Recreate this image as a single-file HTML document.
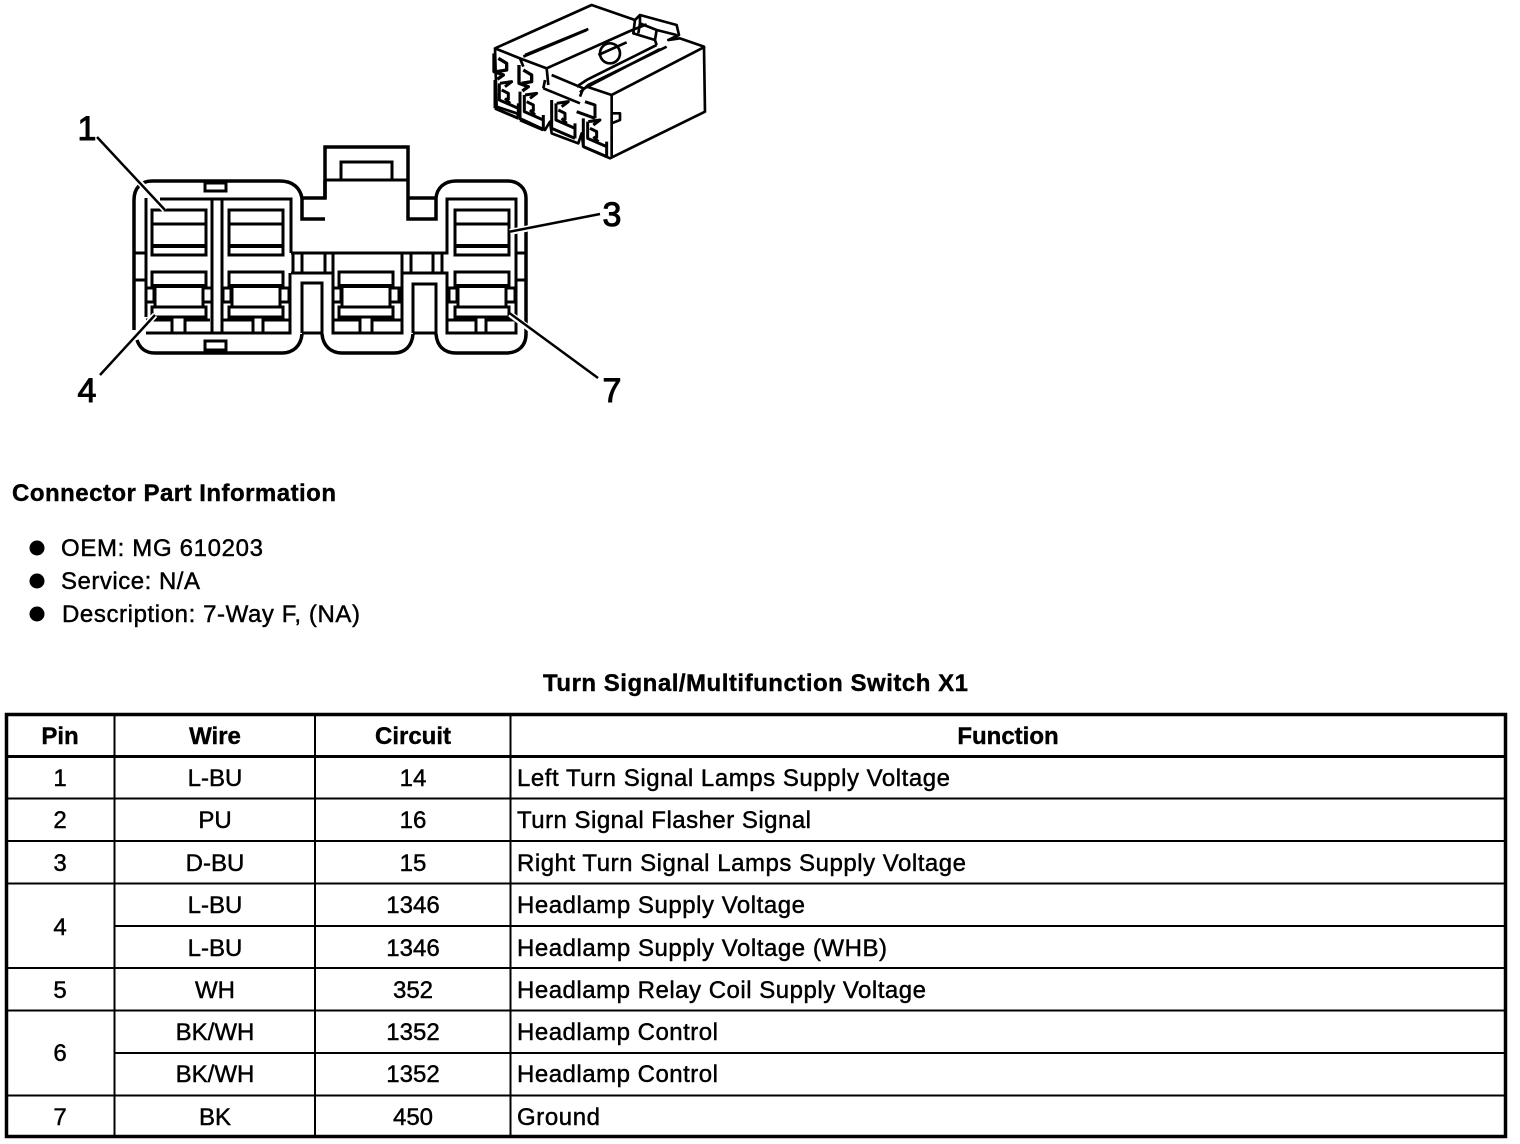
<!DOCTYPE html>
<html><head><meta charset="utf-8"><title>Turn Signal/Multifunction Switch X1</title>
<style>html,body{margin:0;padding:0;background:#fff}svg{display:block}
text{font-family:"Liberation Sans",sans-serif;fill:#000;font-size:24px}
.b{font-weight:bold;stroke:#000;stroke-width:.4}.m{text-anchor:middle}.n{stroke:#000;stroke-width:.45}
.lab{font-size:34px;stroke:#000;stroke-width:1;text-anchor:middle}
</style></head><body>
<svg width="1520" height="1144" viewBox="0 0 1520 1144" xmlns="http://www.w3.org/2000/svg">
<defs>
<g id="up" fill="none" stroke="#000" stroke-width="3"><rect x="152" y="210" width="54" height="45"/><path d="M152 224H206"/><path d="M152 246H206" stroke-width="4"/></g>
<g id="lo" fill="none" stroke="#000" stroke-width="3"><rect x="152" y="272" width="54" height="14"/><path d="M152 286H206" stroke-width="4"/><path d="M155 286V307M203 286V307"/><rect x="152" y="307" width="54" height="10"/><rect x="146" y="288" width="8" height="14"/><rect x="203" y="288" width="9" height="14"/></g>
<path id="opA" fill="none" stroke="#000" stroke-width="9" d="M30 130L65 125L45 140M28 130V180L85 205M45 175L60 190M35 150L55 160V180M15 205L85 235M85 190V235M15 120V205"/>
<path id="opB" fill="none" stroke="#000" stroke-width="10" d="M12 40V95L40 105L22 118M25 55L50 70V90L20 95"/>
</defs>
<!-- connector front view -->
<g fill="none" stroke="#000" stroke-width="3.5">
<path d="M302 198C300 188 293 181 280 181H152C141 181 134 188 134 200V330"/>
<path d="M137 340C140 349 146 353 155 353H282C293 353 301 346 302 334"/>
<path d="M322 334C323 346 331 353 342 353H394C405 353 412 346 413 334"/>
<path d="M436 334C437 346 444 353 456 353H506C518 353 526 346 526 334V198C526 188 518 181 508 181H456C444 181 437 188 436 198V219H408V147H325V198H302V219H325"/>
<path d="M325 198V180M408 198H436"/><path d="M302 333H322V283H302V333" stroke-width="3"/><path d="M413 333H436V284H413V333" stroke-width="3"/>
</g>
<g fill="none" stroke="#000" stroke-width="3">
<path d="M325 180H408M341 180V162H392V180"/>
<rect x="205" y="183" width="21" height="8"/><rect x="205" y="341" width="21" height="9"/>
<path d="M134 253H146M134 280H146"/>
<path d="M146 198V317M160 199H291V253M212 199V333M222 199V333"/>
<path d="M146 333H290V273M291 253H447V199H516V333H447V273H403"/>
<path d="M291 273H333M293 253V273M302 253V273M325 253V273M333 253V333H402V253M411 253V273M433 253V273M442 253V273"/>
<path d="M146 320H172V333M185 333V320H210M222 320H253V333M263 333V320H290M333 320H360V333M372 333V320H402M447 320H476V333M486 333V320H516"/>
<path d="M516 253H526M516 280H526"/>
</g>
<use href="#up"/><use href="#up" x="77"/><use href="#up" x="303"/>
<use href="#lo"/><use href="#lo" x="77"/><use href="#lo" x="187"/><use href="#lo" x="303"/>
<!-- leaders -->
<g stroke="#000" stroke-width="2.5" fill="none">
<path d="M108 148L165 210" stroke="#fff" stroke-width="6"/><path d="M100 375L155 315" stroke="#fff" stroke-width="6"/><path d="M510 232L530 228" stroke="#fff" stroke-width="6"/><path d="M510 314L530 329" stroke="#fff" stroke-width="6"/>
<path d="M97 137L165 210M508 232L600 214M100 375L155 315M508 312L598 378"/>
</g>
<text class="lab" x="87" y="140">1</text><text class="lab" x="612" y="226">3</text><text class="lab" x="87" y="402">4</text><text class="lab" x="612" y="402">7</text>
<!-- 3D connector -->
<g transform="translate(480 5) scale(.3333)" fill="none" stroke="#000" stroke-width="8" stroke-linejoin="round">
<path fill="#fff" d="M45 130L335 0L465 45L480 30L590 60L597 90L565 105L600 100L672 125L675 320L390 460L310 425L305 385L295 415L215 385L210 350L195 375L120 340L110 325L50 305Z"/>
<path d="M45 130L120 160L200 190L205 240M120 160L130 185M130 155L320 75M135 150L325 72" stroke-width="8"/>
<path d="M200 190L450 78L500 58M215 210L310 250L300 275M190 250L300 295M190 250L195 225"/>
<path d="M290 245L320 225L530 120M300 262L325 240L560 125M310 252L540 132M320 245L395 270L675 125M395 270V460"/>
<circle cx="390" cy="145" r="30" fill="#fff"/><path d="M355 150L440 112"/>
<path d="M465 45L460 85L525 105L530 75L480 55V30M480 55L475 85M530 75L590 90M525 105L530 120"/>
<path d="M395 325L420 325V345L395 355"/>
<use href="#opB" x="30" y="105"/><use href="#opB" x="105" y="140"/>
<use href="#opA" x="30" y="105"/><use href="#opA" x="105" y="140"/><use href="#opA" x="200" y="165"/><use href="#opA" x="295" y="220"/>
<path d="M290 320L345 340M315 290L345 300V340" stroke-width="9"/>
</g>
<!-- headings and list -->
<text class="b" x="12" y="501" textLength="324">Connector Part Information</text>
<circle cx="37" cy="548" r="7.5"/><circle cx="37" cy="581" r="7.5"/><circle cx="37" cy="614" r="7.5"/>
<text class="n" x="61" y="556" textLength="202">OEM: MG 610203</text>
<text class="n" x="61" y="589" textLength="139">Service: N/A</text>
<text class="n" x="62" y="622" textLength="298">Description: 7-Way F, (NA)</text>
<text class="b" x="543" y="691" textLength="425">Turn Signal/Multifunction Switch X1</text>
<!-- table -->
<g fill="none" stroke="#000" stroke-width="2">
<rect x="6.500" y="714.500" width="1499" height="422" stroke-width="3.5"/>
<path d="M8 798.500H1505M8 841H1505M8 883.500H1505M114 926H1505M8 968H1505M8 1010.500H1505M114 1053H1505M8 1095.500H1505"/>
<path d="M8 756.500H1505" stroke-width="3"/>
<path d="M114.500 715V1136M315 715V1136M510.500 715V1136"/>
</g>
<text class="b m" x="60" y="744">Pin</text><text class="b m" x="215" y="744">Wire</text><text class="b m" x="413" y="744">Circuit</text><text class="b m" x="1008" y="744">Function</text>
<g class="n">
<text class="m" x="60" y="786">1</text><text class="m" x="215" y="786">L-BU</text><text class="m" x="413" y="786">14</text><text x="517" y="786" textLength="433">Left Turn Signal Lamps Supply Voltage</text>
<text class="m" x="60" y="828">2</text><text class="m" x="215" y="828">PU</text><text class="m" x="413" y="828">16</text><text x="517" y="828" textLength="294">Turn Signal Flasher Signal</text>
<text class="m" x="60" y="871">3</text><text class="m" x="215" y="871">D-BU</text><text class="m" x="413" y="871">15</text><text x="517" y="871" textLength="449">Right Turn Signal Lamps Supply Voltage</text>
<text class="m" x="60" y="935">4</text><text class="m" x="215" y="913">L-BU</text><text class="m" x="413" y="913">1346</text><text x="517" y="913" textLength="288">Headlamp Supply Voltage</text>
<text class="m" x="215" y="956">L-BU</text><text class="m" x="413" y="956">1346</text><text x="517" y="956" textLength="370">Headlamp Supply Voltage (WHB)</text>
<text class="m" x="60" y="998">5</text><text class="m" x="215" y="998">WH</text><text class="m" x="413" y="998">352</text><text x="517" y="998" textLength="409">Headlamp Relay Coil Supply Voltage</text>
<text class="m" x="60" y="1061">6</text><text class="m" x="215" y="1040">BK/WH</text><text class="m" x="413" y="1040">1352</text><text x="517" y="1040" textLength="201">Headlamp Control</text>
<text class="m" x="215" y="1082">BK/WH</text><text class="m" x="413" y="1082">1352</text><text x="517" y="1082" textLength="201">Headlamp Control</text>
<text class="m" x="60" y="1125">7</text><text class="m" x="215" y="1125">BK</text><text class="m" x="413" y="1125">450</text><text x="517" y="1125" textLength="83">Ground</text>
</g>
</svg>
</body></html>
